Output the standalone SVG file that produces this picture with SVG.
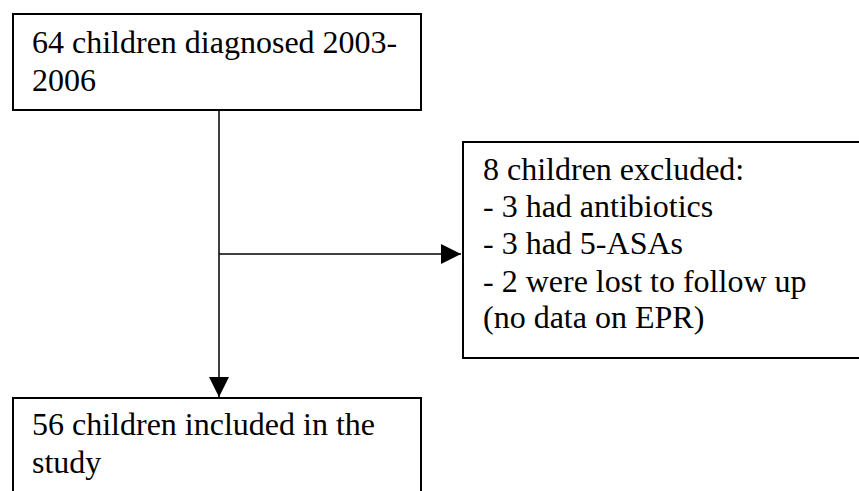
<svg xmlns="http://www.w3.org/2000/svg" width="859" height="491" viewBox="0 0 859 491">
<style>
.box{fill:#fff;stroke:#000;stroke-width:2}
.t{font-family:"Liberation Serif","Times New Roman",serif;font-size:32px;fill:#000}
.c{stroke:#000;stroke-width:1.5;fill:none}
</style>
<defs>
<marker id="ah" viewBox="0 0 20 20" refX="20" refY="10" markerWidth="20" markerHeight="20" markerUnits="userSpaceOnUse" orient="auto">
<path d="M0,0 L20,10 L0,20 Z" fill="#000"/>
</marker>
</defs>
<rect width="859" height="491" fill="#fff"/>
<g id="connectors">
<line class="c" x1="219" y1="110" x2="219" y2="397" marker-end="url(#ah)"/>
<line class="c" x1="219" y1="254" x2="461" y2="254" marker-end="url(#ah)"/>
</g>
<g id="n1">
<rect class="box" x="13" y="14" width="408" height="96"/>
<text class="t" x="32" y="53">64 children diagnosed 2003-</text>
<text class="t" x="32" y="91">2006</text>
</g>
<g id="n2">
<rect class="box" x="463" y="142" width="410" height="216"/>
<text class="t" x="483" y="180">8 children excluded:</text>
<text class="t" x="483" y="217">- 3 had antibiotics</text>
<text class="t" x="483" y="254">- 3 had 5-ASAs</text>
<text class="t" x="483" y="292">- 2 were lost to follow up</text>
<text class="t" x="483" y="328">(no data on EPR)</text>
</g>
<g id="n3">
<rect class="box" x="13" y="398" width="408" height="110"/>
<text class="t" x="32" y="435">56 children included in the</text>
<text class="t" x="32" y="473">study</text>
</g>
</svg>
